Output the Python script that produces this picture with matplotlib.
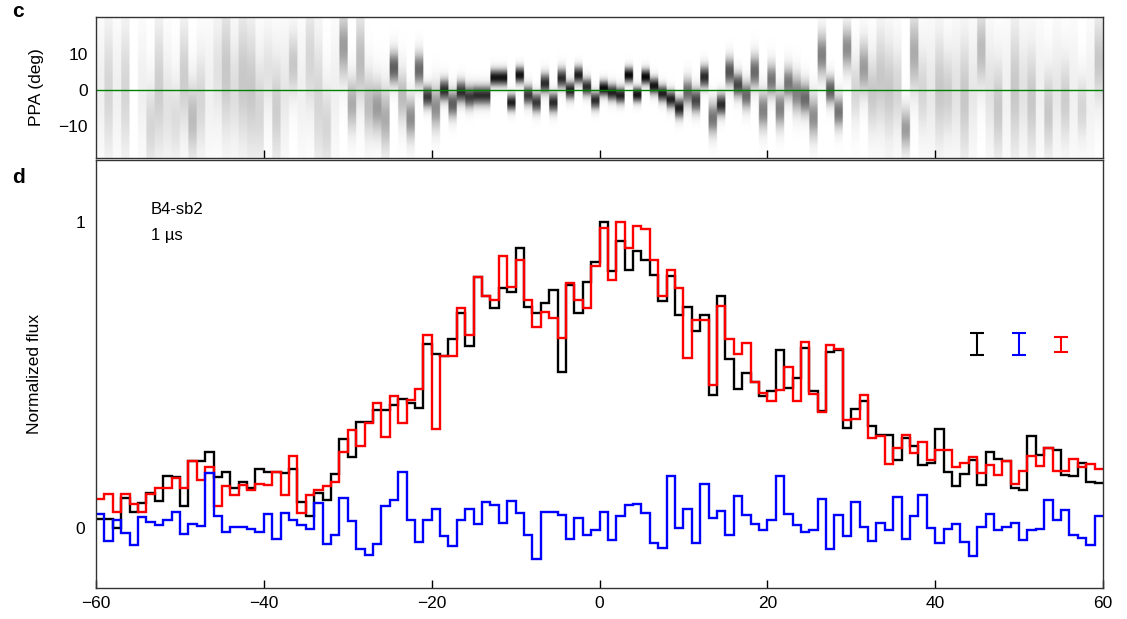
import numpy as np
import matplotlib
matplotlib.use("Agg")
from matplotlib import pyplot as plt
from matplotlib.colors import PowerNorm

plt.rcParams["font.family"] = ["Liberation Sans", "DejaVu Sans"]

# time axis: 1 us bins from -60 to 60
edges = np.arange(-60, 61, 1)

# total intensity (black)
flux_I = [
    0.028, 0.028, 0.000, 0.097, 0.053, 0.081, 0.113, 0.086, 0.168, 0.166,
    0.072, 0.217, 0.217, 0.249, 0.166, 0.181, 0.130, 0.151, 0.130, 0.192,
    0.181, 0.181, 0.178, 0.192, 0.083, 0.039, 0.113, 0.089, 0.175, 0.290,
    0.230, 0.347, 0.347, 0.386, 0.386, 0.402, 0.420, 0.407, 0.391, 0.601,
    0.569, 0.562, 0.617, 0.701, 0.595, 0.818, 0.756, 0.718, 0.783, 0.772,
    0.914, 0.721, 0.701, 0.734, 0.776, 0.508, 0.794, 0.701, 0.802, 0.868,
    1.001, 0.838, 0.936, 0.843, 0.906, 0.874, 0.827, 0.740, 0.824, 0.696,
    0.721, 0.644, 0.696, 0.435, 0.756, 0.551, 0.453, 0.505, 0.475, 0.429,
    0.446, 0.582, 0.456, 0.489, 0.587, 0.446, 0.380, 0.573, 0.582, 0.326,
    0.388, 0.413, 0.331, 0.304, 0.304, 0.222, 0.293, 0.268, 0.206, 0.211,
    0.322, 0.181, 0.137, 0.176, 0.222, 0.141, 0.249, 0.224, 0.217, 0.130,
    0.124, 0.301, 0.239, 0.260, 0.255, 0.173, 0.168, 0.213, 0.151, 0.146,
]

# linear polarization (red)
flux_L = [
    0.094, 0.111, 0.053, 0.111, 0.077, 0.053, 0.111, 0.130, 0.130, 0.162,
    0.130, 0.219, 0.157, 0.200, 0.070, 0.135, 0.108, 0.141, 0.124, 0.144,
    0.141, 0.181, 0.108, 0.233, 0.048, 0.108, 0.124, 0.135, 0.148, 0.249,
    0.320, 0.266, 0.342, 0.407, 0.298, 0.432, 0.342, 0.418, 0.453, 0.631,
    0.322, 0.562, 0.562, 0.718, 0.631, 0.818, 0.756, 0.743, 0.887, 0.786,
    0.874, 0.743, 0.655, 0.704, 0.685, 0.620, 0.800, 0.745, 0.718, 0.854,
    0.981, 0.810, 1.001, 0.914, 0.985, 0.976, 0.876, 0.756, 0.841, 0.783,
    0.554, 0.678, 0.680, 0.467, 0.725, 0.617, 0.569, 0.603, 0.475, 0.440,
    0.413, 0.451, 0.527, 0.415, 0.606, 0.438, 0.377, 0.598, 0.584, 0.351,
    0.356, 0.435, 0.293, 0.301, 0.209, 0.260, 0.304, 0.244, 0.279, 0.222,
    0.253, 0.255, 0.198, 0.213, 0.231, 0.179, 0.206, 0.173, 0.219, 0.144,
    0.187, 0.235, 0.203, 0.260, 0.187, 0.187, 0.224, 0.200, 0.209, 0.193,
]

# circular polarization (blue)
flux_V = [
    0.046, -0.045, 0.026, -0.016, -0.056, 0.035, 0.020, 0.010, 0.026, 0.051,
    -0.020, 0.013, 0.004, 0.179, 0.037, -0.015, 0.001, 0.001, -0.003, -0.014,
    0.046, -0.037, 0.048, 0.024, 0.008, -0.003, 0.081, -0.052, -0.023, 0.097,
    0.021, -0.070, -0.088, -0.052, 0.072, 0.092, 0.182, 0.026, -0.047, 0.026,
    0.061, -0.028, -0.061, 0.024, 0.061, 0.013, 0.083, 0.075, 0.017, 0.086,
    0.048, -0.023, -0.101, 0.050, 0.053, 0.042, -0.037, 0.032, -0.023, -0.009,
    0.050, -0.039, 0.037, 0.075, 0.078, 0.048, -0.050, -0.066, 0.168, -0.001,
    0.062, -0.050, 0.143, 0.032, 0.056, -0.023, 0.105, 0.042, 0.013, -0.009,
    0.026, 0.170, 0.046, 0.010, -0.015, -0.009, 0.095, -0.070, 0.042, -0.026,
    0.083, 0.002, -0.045, 0.015, -0.009, 0.102, -0.037, 0.039, 0.108, -0.001,
    -0.050, -0.004, 0.013, -0.048, -0.092, 0.002, 0.046, -0.007, 0.002, 0.015,
    -0.039, -0.007, -0.004, 0.092, 0.026, 0.057, -0.023, -0.034, -0.056, 0.037,
]

# PPA distribution per bin: centre (deg), width (deg), darkness
ppa_centre = [
    0, 0, 0, 0, 0, 0, -10, 0, -5, -8,
    3, -8, -3, 0, 5, 5, 0, 3, 0, -5,
    5, -5, 0, 7, 0, 8, -3, -10, 0, 12,
    -4, 8, -4, -5, -8, 6, -2, -8, 5.5, -2,
    -5, -0.2, -4, -0.7, -2, -1.6, -1.6, 3.3, 3.3, -3.6,
    4, -1.6, -3.6, 1.7, -3.6, 3.1, -0.2, 4, 0.7, -3,
    0.3, -0.8, -1.6, 4, -1.4, 3.5, 1, -1.1, -2.7, -5.1,
    -0.7, -3, 3.5, -8, -4.2, 4.9, 1.2, -1.6, 4.9, -5.8,
    2.6, -5.3, 1.7, -1.1, -2.5, -7.6, 9.6, -0.2, -6.2, 11.4,
    0, 6, -1, 3, 0, 0, -11, 10, 0, 0,
    0, -1, 0, -2, 0, 11, 0, -5, 0, 0,
    0, -3, 0, -6, 0, -3, 0, -5, 0, 8,
]
ppa_width = [
    10, 12, 10, 12, 10, 10, 8, 12, 10, 8,
    10, 7, 9, 10, 10, 12, 10, 12, 12, 10,
    8, 10, 10, 6, 10, 10, 12, 8, 10, 6,
    5, 8, 6, 5, 6, 3, 5, 4, 3, 2,
    4, 2, 2.5, 2, 2, 1.8, 1.8, 1.5, 1.5, 1.5,
    1.5, 1.8, 1.8, 1.8, 1.8, 1.8, 1.6, 1.6, 1.6, 1.6,
    1.4, 1.5, 1.5, 1.4, 1.4, 1.4, 1.5, 1.5, 1.6, 1.8,
    2.5, 2.2, 2, 3, 2, 2.5, 2.2, 2.5, 3, 3.5,
    3, 3.5, 3, 3.5, 3, 4, 4, 2.5, 3, 4,
    6, 5, 7, 9, 9, 8, 4, 7, 8, 10,
    10, 8, 10, 11, 10, 7, 10, 9, 10, 12,
    10, 10, 10, 8, 10, 8, 10, 6, 10, 8,
]
ppa_weight = [
    0.05, 0.15, 0.05, 0.15, 0.0, 0.05, 0.15, 0.18, 0.10, 0.12,
    0.18, 0.25, 0.15, 0.05, 0.10, 0.20, 0.12, 0.20, 0.20, 0.15,
    0.10, 0.18, 0.08, 0.20, 0.05, 0.15, 0.15, 0.15, 0.05, 0.35,
    0.30, 0.25, 0.25, 0.35, 0.30, 0.60, 0.25, 0.40, 0.55, 0.75,
    0.40, 0.80, 0.60, 0.80, 0.75, 0.80, 0.80, 0.90, 0.90, 0.85,
    0.90, 0.75, 0.75, 0.80, 0.80, 0.80, 0.85, 0.85, 0.80, 0.80,
    0.95, 0.85, 0.85, 0.95, 0.90, 0.95, 0.90, 0.85, 0.85, 0.85,
    0.55, 0.70, 0.80, 0.50, 0.80, 0.65, 0.70, 0.55, 0.55, 0.45,
    0.50, 0.45, 0.50, 0.45, 0.55, 0.40, 0.45, 0.60, 0.50, 0.40,
    0.15, 0.35, 0.20, 0.20, 0.20, 0.15, 0.35, 0.30, 0.15, 0.08,
    0.20, 0.18, 0.10, 0.20, 0.08, 0.25, 0.10, 0.20, 0.05, 0.20,
    0.10, 0.20, 0.05, 0.20, 0.08, 0.18, 0.05, 0.15, 0.05, 0.20,
]

# error bars shown at the right
err_x = [45, 50, 55]
err_y = [0.6, 0.6, 0.6]
err_size = [0.036, 0.036, 0.025]
err_col = ["black", "blue", "red"]

ppa_lim = (-18.9, 20.3)

fig = plt.figure(figsize=(11.27, 6.19), dpi=100)
ax1 = fig.add_axes([0.0852, 0.7447, 0.8935, 0.2278])
ax2 = fig.add_axes([0.0852, 0.0501, 0.8935, 0.6914])

# panel c: PPA image, each bin widened to a block so the columns keep their width
ppa_grid = np.linspace(ppa_lim[0], ppa_lim[1], 300)
c_ = np.array(ppa_centre)
w_ = np.array(ppa_width)
a_ = np.array(ppa_weight)
img = a_[None, :] * np.exp(-0.5 * ((ppa_grid[:, None] - c_[None, :]) / w_[None, :]) ** 2)
img = np.repeat(img, 6, axis=1)
ax1.imshow(img, origin="lower", aspect="auto", cmap="Greys",
           norm=PowerNorm(gamma=0.7, vmin=0, vmax=1),
           extent=[-60, 60, ppa_lim[0], ppa_lim[1]], interpolation="bilinear")
ax1.axhline(0, color="#008000", lw=1.0)
ax1.set_xlim(-60, 60)
ax1.set_ylim(*ppa_lim)
ax1.set_xticks([-40, -20, 0, 20, 40])
ax1.set_xticklabels([])
ax1.set_yticks([-10, 0, 10])
ax1.tick_params(axis="x", direction="in", length=6, width=1)
ax1.tick_params(axis="y", length=0, labelsize=12.5, pad=6)
ax1.set_ylabel("PPA (deg)", fontsize=12.5, labelpad=10)

# panel d: profiles
ax2.stairs(flux_I, edges, baseline=None, color="black", lw=1.7)
ax2.stairs(flux_L, edges, baseline=None, color="red", lw=1.7)
ax2.stairs(flux_V, edges, baseline=None, color="blue", lw=1.7)
for i in range(3):
    ax2.errorbar(err_x[i], err_y[i], yerr=err_size[i], color=err_col[i],
                 capsize=5, lw=1.5, capthick=1.5)
ax2.set_xlim(-60, 60)
ax2.set_ylim(-0.197, 1.202)
ax2.set_xticks([-60, -40, -20, 0, 20, 40, 60])
ax2.set_yticks([0, 1])
ax2.tick_params(axis="x", direction="in", length=6, width=1, labelsize=12.5, pad=6)
ax2.tick_params(axis="y", length=0, labelsize=12.5, pad=8)
ax2.set_ylabel("Normalized flux", fontsize=12.5, labelpad=24)
ax2.text(-53.5, 1.04, "B4-sb2", fontsize=12, va="center")
ax2.text(-53.5, 0.955, "1 \u00b5s", fontsize=12, va="center")

for ax in (ax1, ax2):
    for s in ax.spines.values():
        s.set_color("#333333")
        s.set_linewidth(1.0)

fig.text(0.011, 0.981, "c", fontsize=15, fontweight="bold", va="center")
fig.text(0.011, 0.713, "d", fontsize=15, fontweight="bold", va="center")

fig.savefig("out.png", dpi=100)
